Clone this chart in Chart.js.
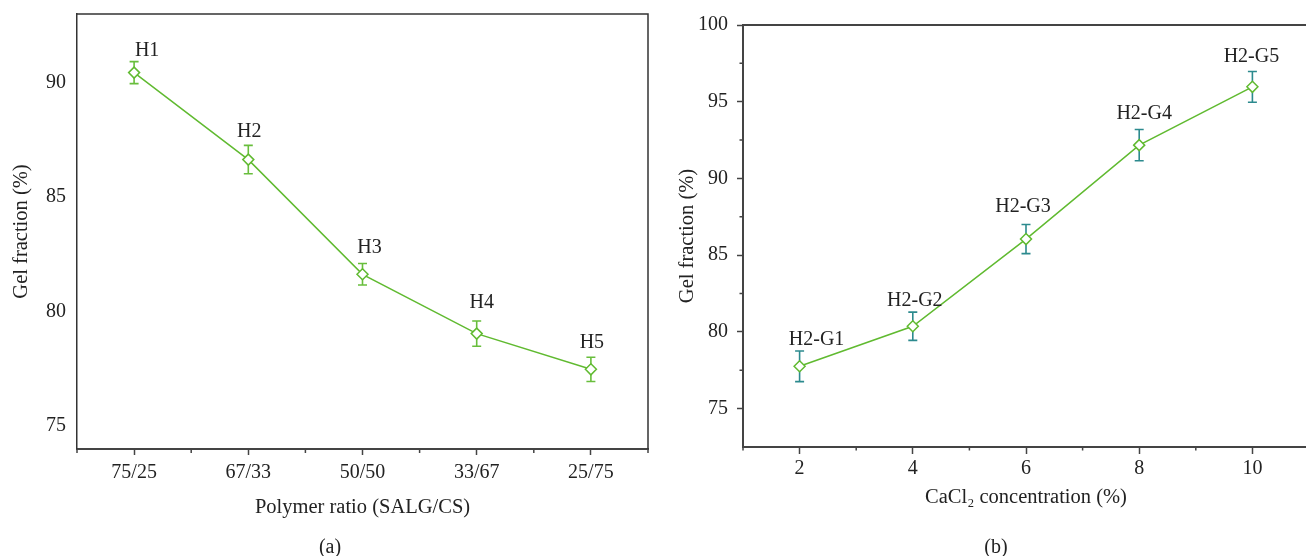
<!DOCTYPE html>
<html>
<head>
<meta charset="utf-8">
<script src="https://cdn.jsdelivr.net/npm/chart.js@4.4.1/dist/chart.umd.min.js"></script>
<style>
  html, body { margin:0; padding:0; background:#fff; overflow:hidden; }
  body { width:1306px; height:556px; position:relative; }
  canvas { position:absolute; top:0; }
  #ca { left:0; }
  #cb { left:656px; }
  .cap { position:absolute; font-family:"Liberation Serif", serif; font-size:20px; color:#222; transform:translate(-50%,-50%); white-space:nowrap; }
</style>
</head>
<body>
<canvas id="ca" width="660" height="556"></canvas>
<canvas id="cb" width="660" height="556"></canvas>
<div class="cap" style="left:330px; top:546px;">(a)</div>
<div class="cap" style="left:996px; top:546px;">(b)</div>
<script>
// ---------- data (a) ----------
const ratioLabels = ["75/25", "67/33", "50/50", "33/67", "25/75"];
const sampleNamesA = ["H1", "H2", "H3", "H4", "H5"];
const gelFractionA = [90.44, 86.64, 81.63, 79.04, 77.48];
const errorA = [0.48, 0.62, 0.47, 0.55, 0.53];
const yTicksA = [75, 80, 85, 90];

// ---------- data (b) ----------
const cacl2Conc = [2, 4, 6, 8, 10];
const sampleNamesB = ["H2-G1", "H2-G2", "H2-G3", "H2-G4", "H2-G5"];
const gelFractionB = [77.76, 80.37, 86.05, 92.17, 95.97];
const errorB = [1.0, 0.92, 0.95, 1.02, 1.0];
const xTicksB = [2, 4, 6, 8, 10];
const yTicksB = [75, 80, 85, 90, 95, 100];

// ---------- styles ----------
const FONT = "'Liberation Serif', 'Times New Roman', serif";
const GREEN = "rgb(96,186,48)";
const ERR_GREEN = "rgb(104,190,60)";
const TEAL = "rgb(44,138,142)";
const AXIS = "#444";
const TXT = "#222";
const nudgeA = { dx: [13, 1, 7, 5, 1], dy: [-11, -14, -16, -18, -14] };
const nudgeB = { dx: [17, 2, -3, 5, -1], dy: [-11, -11, -18, -16, -15] };

Chart.defaults.font.family = FONT;
Chart.defaults.color = TXT;

function fixSize(prop, size) {
  return s => {
    s[prop] = size;
    s.paddingTop = 0; s.paddingBottom = 0; s.paddingLeft = 0; s.paddingRight = 0;
  };
}

const errorBarPlugin = {
  id: 'errorBars',
  beforeDatasetsDraw(chart, args, opts) {
    const ctx = chart.ctx, ys = chart.scales.y;
    const meta = chart.getDatasetMeta(0);
    ctx.save();
    ctx.strokeStyle = opts.color;
    ctx.lineWidth = 1.6;
    meta.data.forEach((pt, i) => {
      const v = opts.values[i], e = opts.errors[i];
      const y1 = ys.getPixelForValue(v + e), y2 = ys.getPixelForValue(v - e);
      const x = pt.x;
      ctx.beginPath();
      ctx.moveTo(x, y1); ctx.lineTo(x, y2);
      ctx.moveTo(x - 4.5, y1); ctx.lineTo(x + 4.5, y1);
      ctx.moveTo(x - 4.5, y2); ctx.lineTo(x + 4.5, y2);
      ctx.stroke();
    });
    ctx.restore();
  },
  afterDatasetsDraw(chart, args, opts) {
    const ctx = chart.ctx, ys = chart.scales.y;
    const meta = chart.getDatasetMeta(0);
    ctx.save();
    ctx.font = "20px " + FONT;
    ctx.fillStyle = TXT;
    ctx.textAlign = 'center';
    ctx.textBaseline = 'middle';
    meta.data.forEach((pt, i) => {
      const top = ys.getPixelForValue(opts.values[i] + opts.errors[i]);
      ctx.fillText(opts.names[i], pt.x + opts.nudge.dx[i], top + opts.nudge.dy[i]);
    });
    ctx.restore();
  }
};

const framePlugin = {
  id: 'frame',
  afterDraw(chart, args, opts) {
    const {ctx, chartArea: a} = chart;
    ctx.save();
    ctx.strokeStyle = opts.color;
    ctx.lineWidth = opts.width;
    ctx.beginPath();
    ctx.moveTo(a.left, a.top);
    ctx.lineTo(a.right, a.top);
    ctx.lineTo(a.right, a.bottom);
    ctx.stroke();
    // minor ticks
    ctx.strokeStyle = AXIS;
    ctx.lineWidth = 1.5;
    ctx.beginPath();
    (opts.minorX || []).forEach(v => {
      const x = chart.scales.x.getPixelForValue(v);
      ctx.moveTo(x, a.bottom); ctx.lineTo(x, a.bottom + opts.minorLen);
    });
    (opts.minorY || []).forEach(v => {
      const y = chart.scales.y.getPixelForValue(v);
      ctx.moveTo(a.left, y); ctx.lineTo(a.left - opts.minorLen, y);
    });
    ctx.stroke();
    ctx.restore();
  }
};

// ---------- chart (a) ----------
new Chart(document.getElementById('ca'), {
  type: 'line',
  data: {
    labels: ratioLabels,
    datasets: [{
      data: gelFractionA,
      borderColor: GREEN,
      borderWidth: 1.5,
      tension: 0,
      pointStyle: 'rectRot',
      pointRadius: 5.5,
      pointBorderWidth: 1.5,
      pointBackgroundColor: '#fff',
      pointBorderColor: GREEN
    }]
  },
  options: {
    responsive: false,
    animation: false,
    layout: { padding: { top: 14, right: 12, left: 0, bottom: 0 } },
    plugins: {
      legend: { display: false },
      tooltip: { enabled: false },
      errorBars: { values: gelFractionA, errors: errorA, names: sampleNamesA, color: ERR_GREEN, nudge: nudgeA },
      frame: { color: '#333', width: 1.5, minorX: [-0.5, 0.5, 1.5, 2.5, 3.5, 4.5], minorY: [], minorLen: 4 }
    },
    scales: {
      x: {
        type: 'category',
        offset: true,
        grid: { display: true, drawOnChartArea: false, offset: false, drawTicks: true, tickLength: 6, tickColor: AXIS, tickWidth: 1.5 },
        border: { display: true, color: AXIS, width: 2 },
        ticks: { font: { size: 20 }, color: TXT, padding: 6, maxRotation: 0, autoSkip: false },
        title: { display: true, text: 'Polymer ratio (SALG/CS)', font: { size: 20.5 }, color: TXT, padding: { top: 0, bottom: 36 } },
        afterFit: fixSize('height', 107)
      },
      y: {
        type: 'linear',
        min: 74, max: 93,
        afterBuildTicks: s => { s.ticks = yTicksA.map(v => ({ value: v })); },
        grid: { display: false, drawTicks: false },
        border: { display: true, color: '#333', width: 1.5 },
        ticks: { font: { size: 20 }, color: TXT, padding: 11 },
        title: { display: true, text: 'Gel fraction (%)', font: { size: 20.5 }, color: TXT, padding: { top: 9, bottom: 0 } },
        afterFit: fixSize('width', 77)
      }
    }
  },
  plugins: [errorBarPlugin, framePlugin]
});

// ---------- chart (b) ----------
new Chart(document.getElementById('cb'), {
  type: 'line',
  data: {
    datasets: [{
      data: cacl2Conc.map((x, i) => ({ x: x, y: gelFractionB[i] })),
      borderColor: GREEN,
      borderWidth: 1.5,
      tension: 0,
      pointStyle: 'rectRot',
      pointRadius: 5.5,
      pointBorderWidth: 1.5,
      pointBackgroundColor: '#fff',
      pointBorderColor: GREEN
    }]
  },
  options: {
    responsive: false,
    animation: false,
    layout: { padding: { top: 25, right: 1, left: 0, bottom: 0 } },
    plugins: {
      legend: { display: false },
      tooltip: { enabled: false },
      errorBars: { values: gelFractionB, errors: errorB, names: sampleNamesB, color: TEAL, nudge: nudgeB },
      frame: { color: AXIS, width: 2, minorX: [1, 3, 5, 7, 9, 11], minorY: [77.5, 82.5, 87.5, 92.5, 97.5], minorLen: 3.5 }
    },
    scales: {
      x: {
        type: 'linear',
        min: 1, max: 11,
        afterBuildTicks: s => { s.ticks = xTicksB.map(v => ({ value: v })); },
        grid: { display: true, drawOnChartArea: false, drawTicks: true, tickLength: 7, tickColor: AXIS, tickWidth: 1.5 },
        border: { display: true, color: AXIS, width: 2 },
        ticks: { font: { size: 20 }, color: TXT, padding: 3, maxRotation: 0 },
        title: { display: true, text: 'CaCl₂ concentration (%)', font: { size: 20.5 }, color: TXT, padding: { top: 0, bottom: 46 } },
        afterFit: fixSize('height', 109)
      },
      y: {
        type: 'linear',
        min: 72.5, max: 100,
        afterBuildTicks: s => { s.ticks = yTicksB.map(v => ({ value: v })); },
        grid: { display: true, drawOnChartArea: false, drawTicks: true, tickLength: 6, tickColor: AXIS, tickWidth: 1.5 },
        border: { display: true, color: AXIS, width: 2 },
        ticks: { font: { size: 20 }, color: TXT, padding: 9 },
        title: { display: true, text: 'Gel fraction (%)', font: { size: 20.5 }, color: TXT, padding: { top: 19, bottom: 0 } },
        afterFit: fixSize('width', 87)
      }
    }
  },
  plugins: [errorBarPlugin, framePlugin]
});
</script>
</body>
</html>
